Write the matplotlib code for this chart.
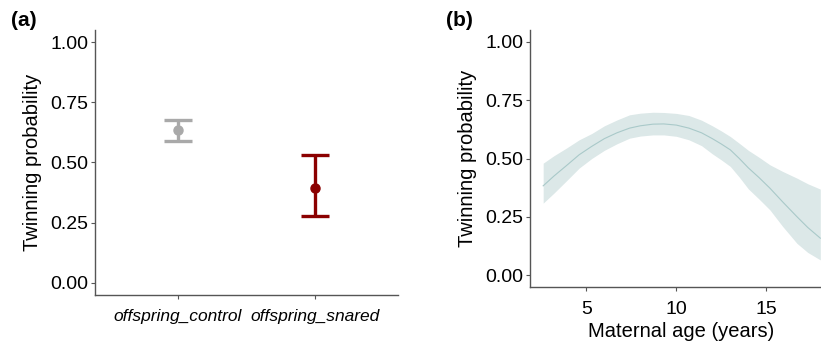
import numpy as np
import matplotlib.pyplot as plt

plt.rcParams['font.family'] = ['Liberation Sans', 'DejaVu Sans']

# panel (a): group estimates
groups = ['offspring_control', 'offspring_snared']
group_mean = [0.635, 0.395]
group_low = [0.590, 0.279]
group_high = [0.678, 0.530]
group_cols = ['#A9A9A9', '#8B0000']

# panel (b): fitted curve with confidence band
age = [2.6, 3.2, 3.9, 4.6, 5.3, 6.0, 6.7, 7.4, 8.0, 8.7, 9.3, 10.0, 10.7, 11.4,
       12.0, 12.5, 13.0, 13.5, 14.0, 14.6, 15.2, 15.9, 16.7, 17.3, 18.0]
fit = [0.383, 0.425, 0.470, 0.516, 0.552, 0.585, 0.610, 0.630, 0.640, 0.647, 0.648,
       0.643, 0.630, 0.610, 0.585, 0.562, 0.537, 0.500, 0.460, 0.418, 0.373, 0.315,
       0.251, 0.205, 0.159]
fit_low = [0.309, 0.352, 0.405, 0.459, 0.500, 0.535, 0.563, 0.587, 0.596, 0.601, 0.601,
           0.595, 0.580, 0.555, 0.520, 0.494, 0.466, 0.420, 0.370, 0.326, 0.280, 0.210,
           0.137, 0.098, 0.066]
fit_high = [0.480, 0.512, 0.545, 0.580, 0.607, 0.640, 0.665, 0.687, 0.694, 0.698, 0.697,
            0.693, 0.684, 0.664, 0.640, 0.618, 0.594, 0.565, 0.535, 0.505, 0.473, 0.445,
            0.416, 0.392, 0.369]

yticks = [0.0, 0.25, 0.5, 0.75, 1.0]
ytick_labels = ['0.00', '0.25', '0.50', '0.75', '1.00']

fig = plt.figure(figsize=(8.21, 3.46), dpi=100)
axA = fig.add_axes([0.1157, 0.1474, 0.3691, 0.7659])
axB = fig.add_axes([0.6456, 0.1705, 0.3689, 0.7428])

spine_col = '#555555'
for ax in (axA, axB):
    for s in ('top', 'right'):
        ax.spines[s].set_visible(False)
    for s in ('left', 'bottom'):
        ax.spines[s].set_color(spine_col)
        ax.spines[s].set_linewidth(1.0)
    ax.tick_params(axis='both', colors=spine_col, length=3, width=0.8,
                   labelcolor='black', labelsize=14, pad=2)
    ax.set_ylim(-0.05, 1.05)
    ax.set_yticks(yticks)
    ax.set_yticklabels(ytick_labels)
    ax.set_ylabel('Twinning probability', fontsize=14.5, labelpad=6)

# (a)
xpos = np.arange(1, len(groups) + 1)
for i in range(len(groups)):
    m = group_mean[i]
    axA.errorbar(xpos[i], m, yerr=[[m - group_low[i]], [group_high[i] - m]],
                 fmt='o', color=group_cols[i], ms=6.5, elinewidth=2.4,
                 capsize=10, capthick=2.4)
axA.set_xlim(0.4, 2.6)
axA.set_xticks(xpos)
axA.set_xticklabels(groups, fontstyle='italic', fontsize=12.5)
axA.tick_params(axis='x', pad=7)

# (b)
axB.fill_between(age, fit_low, fit_high, color='#DCE8E8', lw=0)
axB.plot(age, fit, color='#A9C9C9', lw=0.8)
axB.set_xlim(1.87, 18.7)
axB.set_xticks([5, 10, 15])
axB.tick_params(axis='x', pad=7)
axB.set_xlabel('Maternal age (years)', fontsize=14.5, labelpad=3)

fig.text(0.013, 0.94, '(a)', fontsize=15, fontweight='bold', va='center')
fig.text(0.543, 0.94, '(b)', fontsize=15, fontweight='bold', va='center')

fig.savefig('out.png', dpi=100)
